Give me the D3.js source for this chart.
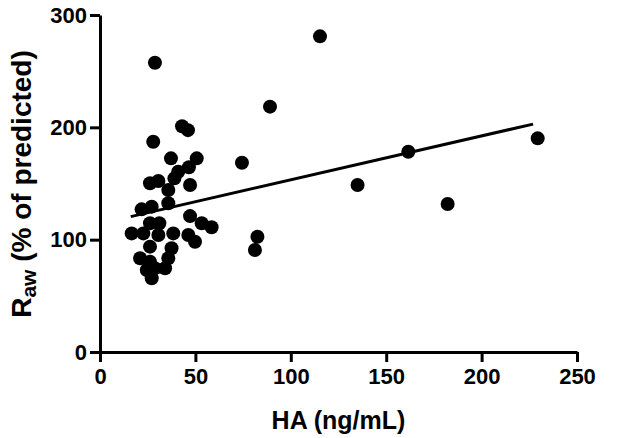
<!DOCTYPE html>
<html><head><meta charset="utf-8">
<script src="https://cdn.jsdelivr.net/npm/d3@7"></script>
<style>body{margin:0;background:#fff}svg{display:block}text{font-family:"Liberation Sans",Arial,sans-serif;font-weight:bold;fill:#000}</style>
</head><body>
<script>
const haValues = [115.3,89.1,74.4,135,161.6,182.2,229.4,28.8,82.5,81.2,
  43,46.1,27.9,37.2,50.7,46.6,39,41,26.2,30.6,35.8,47.2,
  35.8,21.8,27.1,47.2,53.3,58.5,
  26.2,31.1,16.6,22.7,30.6,38.4,46.3,49.8,26.2,37.5,
  21,26.2,35.8,34.1,24.5,28.8,27.1];
const rawValues = [281,218.4,168.5,148.7,178.3,131.8,190.2,257.5,102.6,90.8,
  201,197.5,187.2,172.4,172.4,164.4,154.6,160.5,150.2,152.2,144.2,148.7,
  132.4,127,129.4,121,114.6,111,
  114.6,114.6,105.6,105.6,104.2,105.6,104.2,98.2,93.8,92.3,
  83.4,80.4,83.4,74.5,73,74.5,65.6];
const fitX = [16.1, 227];
const fitSlope = 0.3907, fitIntercept = 114.2;
const xTicks = [0,50,100,150,200,250];
const yTicks = [0,100,200,300];

const W = 631, H = 438;
const svg = d3.select("body").append("svg").attr("width", W).attr("height", H);
const x = d3.scaleLinear().domain([0,250]).range([100,577]);
const y = d3.scaleLinear().domain([0,300]).range([352,15]);

const xAxis = svg.append("g").attr("transform","translate(0,352)")
  .call(d3.axisBottom(x).tickValues(xTicks).tickSize(10).tickSizeOuter(0).tickPadding(6));
const yAxis = svg.append("g").attr("transform","translate(100,0)")
  .call(d3.axisLeft(y).tickValues(yTicks).tickSize(10).tickSizeOuter(0).tickPadding(3));
[xAxis,yAxis].forEach(g=>{
  g.selectAll("path,line").attr("stroke","#000").attr("stroke-width",3);
  g.selectAll("text").style("font-size","22px").style("font-family",'"Liberation Sans",Arial,sans-serif').style("font-weight","bold").attr("fill","#000");
});

svg.append("line")
  .attr("x1", x(fitX[0])).attr("y1", y(fitIntercept + fitSlope*fitX[0]))
  .attr("x2", x(fitX[1])).attr("y2", y(fitIntercept + fitSlope*fitX[1]))
  .attr("stroke","#000").attr("stroke-width",3);

svg.append("g").selectAll("circle").data(haValues.map((v,i)=>[v,rawValues[i]]))
  .join("circle").attr("cx",d=>x(d[0])).attr("cy",d=>y(d[1])).attr("r",7).attr("fill","#000");

svg.append("text").attr("x",338.5).attr("y",429).attr("text-anchor","middle")
  .style("font-size","25px").text("HA (ng/mL)");

const yt = svg.append("text").attr("transform","translate(31,184) rotate(-90)").attr("text-anchor","middle")
  .style("font-size","28px");
yt.append("tspan").text("R");
yt.append("tspan").attr("dy","5").style("font-size","21px").text("aw");
yt.append("tspan").attr("dy","-5").text(" (% of predicted)");
</script>
</body></html>
